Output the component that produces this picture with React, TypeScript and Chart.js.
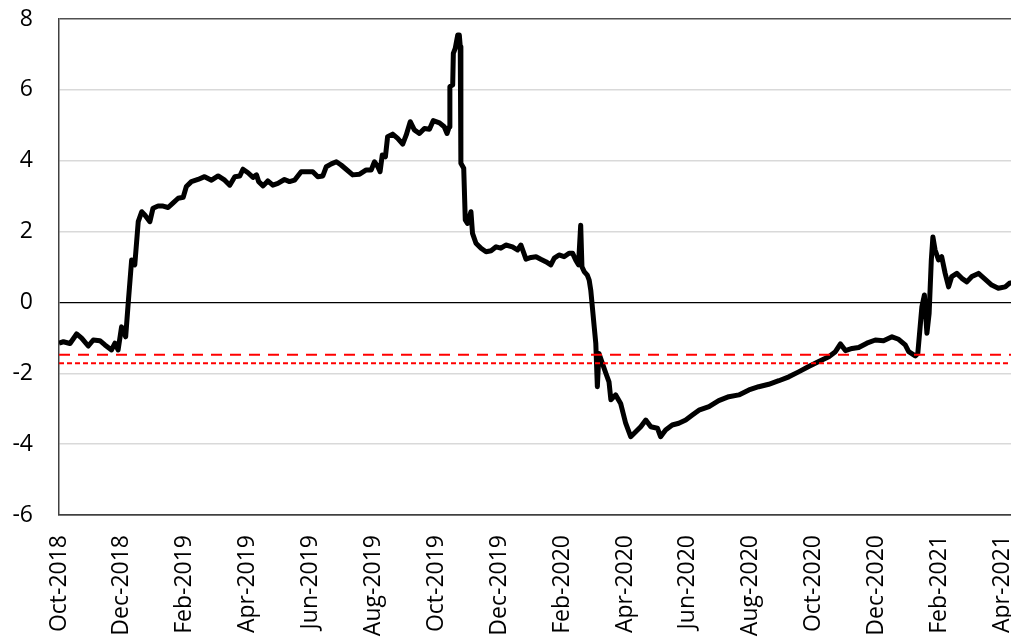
import React, { useEffect, useRef } from "react";
import { Chart, registerables } from "chart.js";

Chart.register(...registerables);

// x = months since Oct-2018, y = value
const monthsX: number[] = [
  0, 0.14, 0.35, 0.56, 0.72, 0.93, 1.09, 1.3, 1.46, 1.67, 1.78, 1.88, 1.99, 2.12, 2.2, 2.31, 2.41, 2.52, 2.63, 2.73,
  2.89, 2.99, 3.15, 3.31, 3.47, 3.63, 3.79, 3.95, 4.05, 4.21, 4.42, 4.63, 4.85, 5.06, 5.27, 5.43, 5.59, 5.75, 5.85,
  6.01, 6.17, 6.28, 6.35, 6.49, 6.64, 6.8, 6.96, 7.17, 7.33, 7.49, 7.7, 7.86, 8.07, 8.23, 8.39, 8.5, 8.66, 8.82,
  8.97, 9.13, 9.34, 9.56, 9.77, 9.93, 10.03, 10.14, 10.21, 10.28, 10.38, 10.45, 10.61, 10.77, 10.93, 11.04, 11.17,
  11.3, 11.46, 11.62, 11.78, 11.9, 12.1, 12.25, 12.34, 12.41, 12.43, 12.52, 12.54, 12.6, 12.68, 12.73, 12.76, 12.78,
  12.87, 12.92, 12.99, 13.1, 13.15, 13.26, 13.42, 13.58, 13.74, 13.9, 14.05, 14.21, 14.42, 14.58, 14.69, 14.85,
  15.01, 15.17, 15.32, 15.48, 15.64, 15.75, 15.9, 16.06, 16.22, 16.33, 16.43, 16.52, 16.59, 16.63, 16.7, 16.8,
  16.86, 16.91, 17.02, 17.07, 17.12, 17.17, 17.28, 17.39, 17.49, 17.55, 17.7, 17.86, 18.02, 18.18, 18.34, 18.5,
  18.66, 18.82, 19.03, 19.13, 19.29, 19.5, 19.71, 19.93, 20.14, 20.35, 20.67, 20.98, 21.3, 21.62, 21.94, 22.25,
  22.57, 22.89, 23.21, 23.52, 23.84, 24.16, 24.48, 24.69, 24.85, 25.01, 25.22, 25.43, 25.69, 25.96, 26.22, 26.49,
  26.7, 26.91, 27.02, 27.23, 27.31, 27.44, 27.52, 27.6, 27.67, 27.74, 27.79, 27.86, 27.97, 28.07, 28.18, 28.29,
  28.39, 28.55, 28.71, 28.87, 29.03, 29.24, 29.42, 29.66, 29.87, 30.09, 30.22, 30.6,
];

const seriesValues: number[] = [
  -1.15, -1.11, -1.16, -0.89, -1.01, -1.23, -1.06, -1.08, -1.2, -1.34, -1.15, -1.34, -0.69, -0.97, -0.03, 1.2, 1.06,
  2.28, 2.56, 2.47, 2.28, 2.66, 2.72, 2.72, 2.68, 2.81, 2.94, 2.97, 3.27, 3.41, 3.47, 3.55, 3.45, 3.57, 3.45, 3.31,
  3.55, 3.57, 3.76, 3.66, 3.53, 3.6, 3.41, 3.29, 3.43, 3.31, 3.36, 3.47, 3.41, 3.45, 3.69, 3.69, 3.69, 3.55, 3.57,
  3.83, 3.91, 3.97, 3.88, 3.76, 3.6, 3.62, 3.74, 3.74, 3.97, 3.83, 3.69, 4.16, 4.11, 4.68, 4.75, 4.63, 4.47, 4.72,
  5.1, 4.87, 4.77, 4.91, 4.89, 5.13, 5.07, 4.96, 4.77, 4.96, 6.09, 6.14, 7.03, 7.17, 7.55, 7.55, 7.22, 3.93, 3.79,
  2.33, 2.23, 2.56, 1.95, 1.67, 1.53, 1.43, 1.46, 1.57, 1.53, 1.62, 1.57, 1.48, 1.62, 1.22, 1.27, 1.29, 1.22, 1.15,
  1.06, 1.25, 1.34, 1.29, 1.39, 1.39, 1.2, 1.06, 2.18, 1.01, 0.87, 0.77, 0.63, 0.35, -0.69, -1.15, -2.38, -1.44,
  -1.72, -2.0, -2.24, -2.75, -2.61, -2.85, -3.41, -3.79, -3.65, -3.51, -3.32, -3.51, -3.55, -3.79, -3.6, -3.46,
  -3.41, -3.32, -3.18, -3.04, -2.94, -2.77, -2.66, -2.61, -2.47, -2.38, -2.31, -2.21, -2.1, -1.96, -1.81, -1.67,
  -1.53, -1.39, -1.17, -1.36, -1.3, -1.27, -1.15, -1.06, -1.08, -0.97, -1.04, -1.2, -1.39, -1.51, -1.44, -0.12, 0.21,
  -0.87, -0.31, 1.2, 1.85, 1.48, 1.2, 1.29, 0.82, 0.44, 0.73, 0.82, 0.68, 0.58, 0.73, 0.82, 0.68, 0.49, 0.4, 0.44,
  0.54, 0.6,
];

const tickLabels: string[] = [
  "Oct-2018", "Dec-2018", "Feb-2019", "Apr-2019", "Jun-2019", "Aug-2019", "Oct-2019", "Dec-2019",
  "Feb-2020", "Apr-2020", "Jun-2020", "Aug-2020", "Oct-2020", "Dec-2020", "Feb-2021", "Apr-2021",
];

const upperThreshold = -1.48;
const lowerThreshold = -1.72;

const X_MIN = 0;
const X_MAX = 30.56;

export default function App() {
  const ref = useRef<HTMLCanvasElement | null>(null);

  useEffect(() => {
    document.body.style.margin = "0";
    const canvas = ref.current;
    if (!canvas) return;
    const font = { family: "'Open Sans', sans-serif", size: 23 };
    const chart = new Chart(canvas, {
      type: "line",
      data: {
        datasets: [
          {
            data: [
              { x: X_MIN, y: upperThreshold },
              { x: X_MAX, y: upperThreshold },
            ],
            borderColor: "#ff0000",
            borderWidth: 2,
            borderDash: [11, 8],
            pointRadius: 0,
            order: 0,
          },
          {
            data: [
              { x: X_MIN, y: lowerThreshold },
              { x: X_MAX, y: lowerThreshold },
            ],
            borderColor: "#ff0000",
            borderWidth: 2,
            borderDash: [5, 3],
            pointRadius: 0,
            order: 0,
          },
          {
            data: monthsX.map((x, i) => ({ x, y: seriesValues[i] })),
            borderColor: "#000000",
            borderWidth: 5,
            pointRadius: 0,
            tension: 0,
            borderJoinStyle: "round",
            order: 1,
          },
        ],
      },
      options: {
        animation: false,
        responsive: false,
        layout: { padding: { top: 19, right: 20, left: 0, bottom: 0 } },
        plugins: { legend: { display: false }, tooltip: { enabled: false } },
        scales: {
          x: {
            type: "linear",
            min: X_MIN,
            max: X_MAX,
            afterBuildTicks: (s: any) => {
              s.ticks = tickLabels.map((_, i) => ({ value: i * 2 }));
            },
            afterFit: (s: any) => {
              s.height = 125;
              s.paddingLeft = 0;
              s.paddingRight = 0;
              s.paddingTop = 0;
              s.paddingBottom = 0;
            },
            grid: { color: "transparent", drawTicks: false },
            border: { display: true, color: "#404040", width: 1.5 },
            ticks: {
              autoSkip: false,
              minRotation: 90,
              maxRotation: 90,
              padding: 20,
              color: "#000",
              font,
              callback: (v: any) => {
                const i = Math.round(Number(v) / 2);
                return tickLabels[i] ?? "";
              },
            },
          },
          y: {
            min: -6,
            max: 8,
            afterFit: (s: any) => {
              s.width = 59;
              s.paddingLeft = 0;
              s.paddingRight = 0;
              s.paddingTop = 0;
              s.paddingBottom = 0;
            },
            grid: {
              drawTicks: false,
              color: (c: any) =>
                c.tick && c.tick.value === 0
                  ? "#000000"
                  : c.tick && (c.tick.value === 8 || c.tick.value === -6)
                  ? "#505050"
                  : "#d9d9d9",
              lineWidth: (c: any) => (c.tick && c.tick.value === 0 ? 1.2 : 1.5),
            },
            border: { display: true, color: "#404040", width: 1.5 },
            ticks: { stepSize: 2, padding: 26, color: "#000", font },
          },
        },
      },
    } as any);
    return () => chart.destroy();
  }, []);

  return (
    <div style={{ width: 1011, height: 640, overflow: "hidden", position: "relative", background: "#fff" }}>
      <canvas ref={ref} width={1040} height={640} style={{ width: 1040, height: 640, display: "block" }} />
    </div>
  );
}
